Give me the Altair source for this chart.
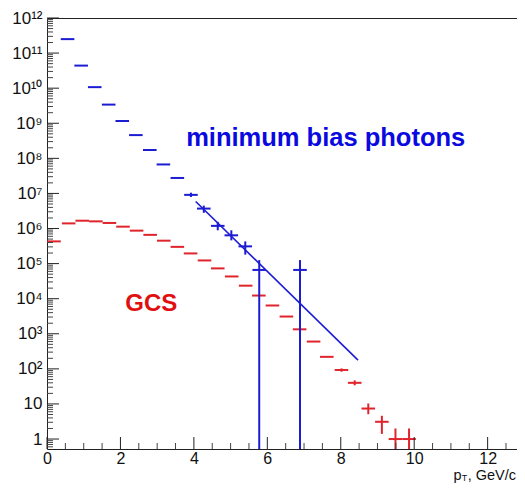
import altair as alt
import pandas as pd

# ---------------- data ----------------
BIN_HALF = 0.185

# minimum bias photons (blue)
blue_x = [0.56, 0.93, 1.30, 1.68, 2.05, 2.42, 2.80, 3.17, 3.55, 3.92,
          4.27, 4.65, 5.02, 5.40, 5.78, 6.89]
blue_y = [2.5e11, 4.4e10, 1.07e10, 3.4e9, 1.16e9, 4.6e8, 1.73e8, 6.7e7, 2.76e7, 9.1e6,
          3.7e6, 1.19e6, 6.4e5, 3.1e5, 6.6e4, 6.6e4]
blue_lo = [None, None, None, None, None, None, None, None, None, 7.9e6,
           2.8e6, 8.9e5, 4.6e5, 1.8e5, 0.01, 0.01]
blue_hi = [None, None, None, None, None, None, None, None, None, 1.05e7,
           4.5e6, 1.55e6, 8.9e5, 4.3e5, 1.26e5, 1.26e5]

# GCS (red)
red_x = [0.19, 0.59, 0.96, 1.33, 1.70, 2.07, 2.44, 2.81, 3.18, 3.55,
         3.91, 4.29, 4.65, 5.03, 5.41, 5.77, 6.14, 6.52, 6.88, 7.26,
         7.62, 8.02, 8.38, 8.75, 9.12, 9.49, 9.86]
red_y = [4.3e5, 1.4e6, 1.67e6, 1.6e6, 1.44e6, 1.13e6, 8.7e5, 6.6e5, 4.5e5, 3.0e5,
         1.95e5, 1.23e5, 7.3e4, 4.3e4, 2.35e4, 1.23e4, 6.4e3, 3.1e3, 1.34e3, 600,
         220, 93, 40, 7.4, 3.1, 1.0, 1.0]
red_lo = [None] * 21 + [83, 34, 5.1, 1.4, 0.01, 0.01]
red_hi = [None] * 21 + [103, 47, 10.3, 4.6, 2.0, 2.0]

# exponential fit drawn over the blue points
fit_x = [4.05, 8.47]
fit_y = [5.9e6, 178]

y_tick_labels = ['1', '10', '10²', '10³', '10⁴', '10⁵', '10⁶', '10⁷', '10⁸',
                 '10⁹', '10¹⁰', '10¹¹', '10¹²']
y_major = [10 ** k for k in range(13)]
y_minor = [m * 10 ** k for k in range(-1, 12) for m in range(2, 10) if 0.52 <= m * 10 ** k <= 1e12]
x_major = [0, 2, 4, 6, 8, 10, 12]
x_minor = [v / 2 for v in range(0, 26) if v % 4 != 0]

BLUE = '#1c1cd2'
RED = '#e0242c'

# ---------------- tables ----------------
def table(xs, ys, los, his, name):
    return pd.DataFrame({
        'x': xs, 'y': ys,
        'xlo': [v - BIN_HALF for v in xs], 'xhi': [v + BIN_HALF for v in xs],
        'ylo': los, 'yhi': his, 'series': name,
    })

blue = table(blue_x, blue_y, blue_lo, blue_hi, 'blue')
red = table(red_x, red_y, red_lo, red_hi, 'red')
fit = pd.DataFrame({'x': fit_x, 'y': fit_y})

W, H = 470, 431
FONT = 'Liberation Sans'

xscale = alt.Scale(domain=[0, 12.8], nice=False, zero=False)
yscale = alt.Scale(type='log', domain=[0.52, 1e12], nice=False, clamp=True)

label_expr = '[' + ','.join("'%s'" % s for s in y_tick_labels) + '][round(log(datum.value)/LN10)]'

xaxis = alt.Axis(values=x_major, ticks=False, tickSize=0, domain=False, grid=False,
                 labelFont=FONT, labelFontSize=16, labelColor='#111', labelPadding=1,
                 labelFlush=False, title=None)
yaxis = alt.Axis(values=y_major, ticks=False, tickSize=0, domain=False, grid=False,
                 labelFont=FONT, labelFontSize=17, labelColor='#111', labelPadding=5,
                 labelFlush=False, labelExpr=label_expr, title=None)

X = lambda f='x': alt.X(f + ':Q', scale=xscale, axis=xaxis)
Y = lambda f='y': alt.Y(f + ':Q', scale=yscale, axis=yaxis)

def hbars(df, color):
    return alt.Chart(df).mark_rule(color=color, strokeWidth=2, clip=True).encode(
        x=X('xlo'), x2='xhi', y=Y('y'))

def vbars(df, color):
    d = df.dropna(subset=['ylo'])
    return alt.Chart(d).mark_rule(color=color, strokeWidth=2, clip=True).encode(
        x=X('x'), y=Y('ylo'), y2='yhi')

fit_line = alt.Chart(fit).mark_line(color=BLUE, strokeWidth=1.6, clip=True).encode(
    x=X('x'), y=Y('y'))

# inward ticks
yt_major = alt.Chart(pd.DataFrame({'v': y_major})).mark_rule(color='#222', strokeWidth=1).encode(
    y=Y('v'), x=alt.value(0), x2=alt.value(12))
yt_minor = alt.Chart(pd.DataFrame({'v': y_minor})).mark_rule(color='#444', strokeWidth=1).encode(
    y=Y('v'), x=alt.value(0), x2=alt.value(6))
xt_major = alt.Chart(pd.DataFrame({'v': x_major})).mark_rule(color='#222', strokeWidth=1).encode(
    x=X('v'), y=alt.value(H), y2=alt.value(H - 12))
xt_minor = alt.Chart(pd.DataFrame({'v': x_minor})).mark_rule(color='#444', strokeWidth=1).encode(
    x=X('v'), y=alt.value(H), y2=alt.value(H - 6))

# annotations
labels = pd.DataFrame({'x': [3.79, 2.13], 'y': [2.2e8, 4.6e3],
                       'text': ['minimum bias photons', 'GCS']})
t_blue = alt.Chart(labels.iloc[[0]]).mark_text(
    align='left', baseline='alphabetic', font=FONT, fontWeight='bold', fontSize=25.5, color='#0a0ae0'
).encode(x=X('x'), y=Y('y'), text='text:N')
t_red = alt.Chart(labels.iloc[[1]]).mark_text(
    align='left', baseline='alphabetic', font=FONT, fontWeight='bold', fontSize=24, color='#e01010'
).encode(x=X('x'), y=Y('y'), text='text:N')

# x-axis title  p_T, GeV/c
tp = alt.Chart(pd.DataFrame({'t': ['p']})).mark_text(
    align='left', baseline='alphabetic', font=FONT, fontSize=14.5, color='#111'
).encode(x=alt.value(406.5), y=alt.value(461.5), text='t:N')
tT = alt.Chart(pd.DataFrame({'t': ['T']})).mark_text(
    align='left', baseline='alphabetic', font=FONT, fontSize=9, color='#111'
).encode(x=alt.value(414.8), y=alt.value(463), text='t:N')
tG = alt.Chart(pd.DataFrame({'t': [', GeV/c']})).mark_text(
    align='right', baseline='alphabetic', font=FONT, fontSize=14.5, color='#111'
).encode(x=alt.value(469), y=alt.value(461.5), text='t:N')

chart = alt.layer(
    hbars(red, RED), vbars(red, RED),
    hbars(blue, BLUE), vbars(blue, BLUE),
    fit_line,
    yt_major, yt_minor, xt_major, xt_minor,
    t_blue, t_red, tp, tT, tG,
).properties(
    width=W, height=H,
    autosize=alt.AutoSizeParams(type='none'),
    padding={'left': 39, 'top': 10, 'right': 0, 'bottom': 34},
    background='white',
).configure_view(stroke='#222', strokeWidth=1)

chart.save('out.html', embed_options={'renderer': 'svg', 'actions': False})
